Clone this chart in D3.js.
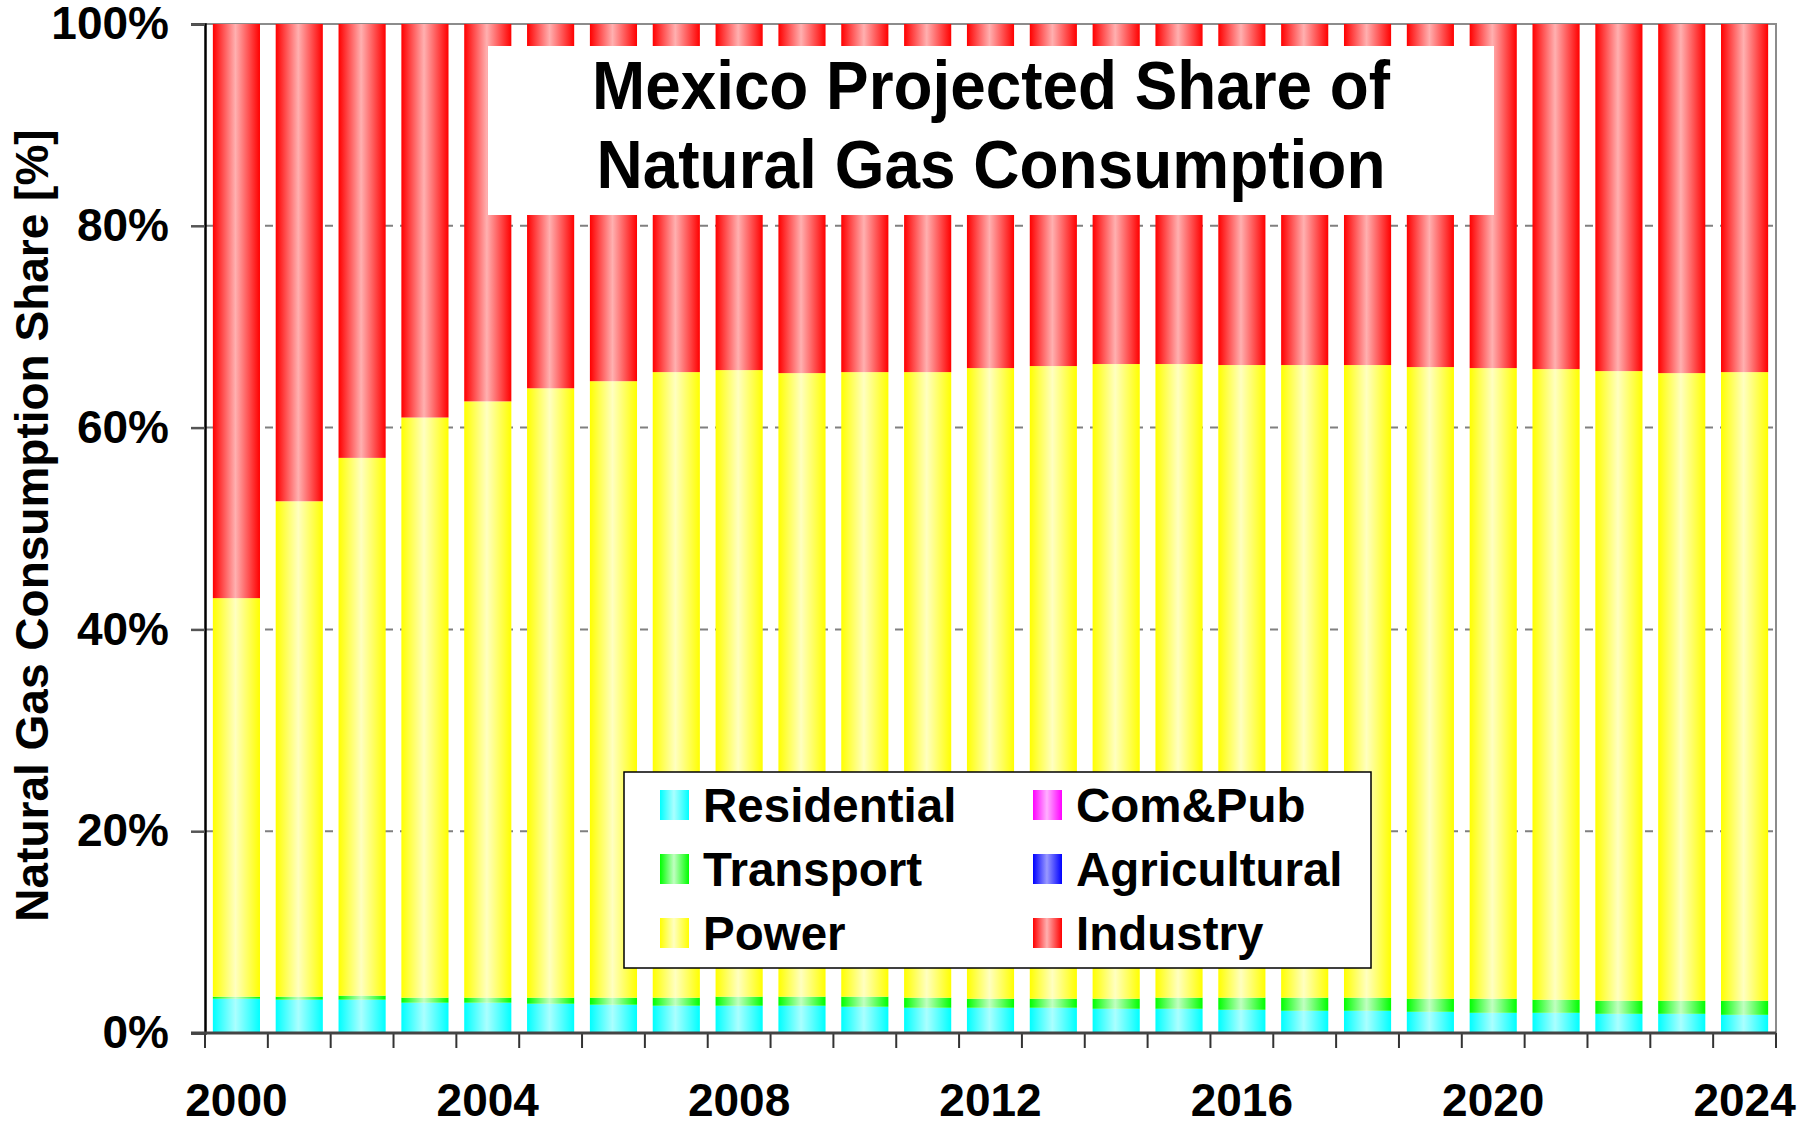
<!DOCTYPE html>
<html>
<head>
<meta charset="utf-8">
<script src="https://cdn.jsdelivr.net/npm/d3@7"></script>
<style>
  body { margin: 0; background: #fff; }
  svg { display: block; font-family: "Liberation Sans", Arial, sans-serif; font-weight: bold; }
</style>
</head>
<body>
<svg class="grafico" width="1806" height="1124"></svg>
<script>
// anos y series (porcentaje del consumo)
const years = d3.range(2000, 2025)
const residential = [3.4,3.3,3.3,3.0,3.0,2.9,2.8,2.7,2.7,2.7,2.6,2.5,2.5,2.5,2.4,2.4,2.3,2.2,2.2,2.1,2.0,2.0,1.9,1.9,1.8]
const comPub = [0,0,0,0,0,0,0,0,0,0,0,0,0,0,0,0,0,0,0,0,0,0,0,0,0]
const transport = [0.2,0.3,0.4,0.5,0.5,0.6,0.7,0.8,0.9,0.9,1.0,1.0,0.9,0.9,1.0,1.1,1.2,1.3,1.3,1.3,1.4,1.3,1.3,1.3,1.4]
const agricultural = [0,0,0,0,0,0,0,0,0,0,0,0,0,0,0,0,0,0,0,0,0,0,0,0,0]
const power = [39.5,49.1,53.3,57.5,59.1,60.4,61.1,62.0,62.1,61.8,61.9,62.0,62.5,62.7,62.9,62.8,62.7,62.7,62.7,62.6,62.5,62.5,62.4,62.2,62.3]
const industry = [56.9,47.3,43.0,39.0,37.4,36.1,35.4,34.5,34.3,34.6,34.5,34.5,34.1,33.9,33.7,33.7,33.8,33.8,33.8,34.0,34.1,34.2,34.4,34.6,34.5]

const yTicks = [0, 20, 40, 60, 80, 100]
const xLabels = [2000, 2004, 2008, 2012, 2016, 2020, 2024]

const series = [
  {key: 'Residential', values: residential, dark: '#00ffff', light: '#aaffff'},
  {key: 'Com&Pub', values: comPub, dark: '#ff00ff', light: '#ffb0ff'},
  {key: 'Transport', values: transport, dark: '#00ff00', light: '#c0ffc0'},
  {key: 'Agricultural', values: agricultural, dark: '#0000ff', light: '#9999ff'},
  {key: 'Power', values: power, dark: '#ffff00', light: '#ffffc0'},
  {key: 'Industry', values: industry, dark: '#ff0000', light: '#ffb0b0'}
]

const rows = years.map((yr, i) => {
  const r = {year: yr}
  series.forEach(s => r[s.key] = s.values[i])
  return r
})

const svg = d3.select('.grafico')
const mLeft = 205, mRight = 1776, mTop = 24, mBottom = 1033

const x = d3.scaleBand()
  .domain(years)
  .range([mLeft, mRight])
  .paddingInner(0.25)
  .paddingOuter(0.125)

const y = d3.scaleLinear()
  .domain([0, 100])
  .range([mBottom, mTop])

// degradados horizontales
const defs = svg.append('defs')
series.forEach((s, i) => {
  const g = defs.append('linearGradient')
    .attr('id', 'grad' + i)
    .attr('x1', 0).attr('x2', 1).attr('y1', 0).attr('y2', 0)
  g.append('stop').attr('offset', '0%').attr('stop-color', s.dark)
  g.append('stop').attr('offset', '48%').attr('stop-color', s.light)
  g.append('stop').attr('offset', '100%').attr('stop-color', s.dark)
})

// lineas de grilla
svg.append('g')
  .selectAll('line')
  .data([20, 40, 60, 80])
  .join('line')
  .attr('x1', mLeft).attr('x2', mRight)
  .attr('y1', d => y(d)).attr('y2', d => y(d))
  .attr('stroke', '#808080')
  .attr('stroke-width', 2)
  .attr('stroke-dasharray', '8,7')

// borde superior y derecho
svg.append('path')
  .attr('d', `M${mLeft},${y(100)}H${mRight}V${mBottom}`)
  .attr('fill', 'none')
  .attr('stroke', '#8c8c8c')
  .attr('stroke-width', 2)

const stacked = d3.stack().keys(series.map(s => s.key))(rows)

svg.append('g')
  .selectAll('g')
  .data(stacked)
  .join('g')
  .attr('fill', (d, i) => `url(#grad${i})`)
  .selectAll('rect')
  .data(d => d)
  .join('rect')
  .attr('x', d => x(d.data.year))
  .attr('width', x.bandwidth())
  .attr('y', d => y(d[1]))
  .attr('height', d => y(d[0]) - y(d[1]))

// eje y
const yAxis = svg.append('g')
  .attr('transform', `translate(${mLeft},0)`)
  .call(d3.axisLeft(y).tickValues(yTicks).tickFormat(d => d + '%').tickSize(14).tickPadding(22))
yAxis.select('.domain').attr('stroke', '#000').attr('stroke-width', 2.5)
yAxis.selectAll('.tick line').attr('stroke', '#555').attr('stroke-width', 2.5)
yAxis.selectAll('text')
  .attr('font-size', 46)
  .attr('font-family', '"Liberation Sans", Arial, sans-serif')
  .attr('font-weight', 'bold')
  .attr('fill', '#000')

// eje x: marcas entre barras
const edges = years.map(d => x(d) - x.step() * x.paddingInner() / 2)
edges[0] = mLeft
edges.push(mRight)
svg.append('g')
  .selectAll('line')
  .data(edges)
  .join('line')
  .attr('x1', d => d).attr('x2', d => d)
  .attr('y1', mBottom).attr('y2', mBottom + 15)
  .attr('stroke', '#333')
  .attr('stroke-width', 2)

svg.append('line')
  .attr('x1', mLeft - 14).attr('x2', mRight)
  .attr('y1', mBottom).attr('y2', mBottom)
  .attr('stroke', '#444')
  .attr('stroke-width', 3)

svg.append('g')
  .selectAll('text')
  .data(xLabels)
  .join('text')
  .attr('x', d => x(d) + x.bandwidth() / 2)
  .attr('y', 1116)
  .attr('text-anchor', 'middle')
  .attr('font-size', 46)
  .text(d => d)

// titulo del eje y
svg.append('text')
  .attr('transform', `translate(48,${(mTop + mBottom) / 2 - 3}) rotate(-90)`)
  .attr('text-anchor', 'middle')
  .attr('font-size', 46)
  .text('Natural Gas Consumption Share [%]')

// cuadro de titulo
svg.append('rect')
  .attr('x', 488).attr('y', 46)
  .attr('width', 1006).attr('height', 169)
  .attr('fill', '#fff')

const titleLines = ['Mexico Projected Share of', 'Natural Gas Consumption']
svg.append('g')
  .selectAll('text')
  .data(titleLines)
  .join('text')
  .attr('x', 991)
  .attr('y', (d, i) => 109 + i * 79)
  .attr('text-anchor', 'middle')
  .attr('font-size', 68)
  .attr('textLength', (d, i) => i === 0 ? 798 : 789)
  .attr('lengthAdjust', 'spacingAndGlyphs')
  .text(d => d)

// leyenda
const legend = svg.append('g')
legend.append('rect')
  .attr('x', 624).attr('y', 772)
  .attr('width', 747).attr('height', 196)
  .attr('fill', '#fff')
  .attr('stroke', '#000')
  .attr('stroke-width', 1.5)

const legendOrder = ['Residential', 'Transport', 'Power', 'Com&Pub', 'Agricultural', 'Industry']
const items = legend.selectAll('g')
  .data(legendOrder)
  .join('g')
  .attr('transform', (d, i) => `translate(${i < 3 ? 660 : 1033},${805 + (i % 3) * 64})`)

items.append('rect')
  .attr('x', 0).attr('y', -15)
  .attr('width', 29).attr('height', 30)
  .attr('fill', d => `url(#grad${series.findIndex(s => s.key === d)})`)

items.append('text')
  .attr('x', 43)
  .attr('y', 17)
  .attr('font-size', 47.5)
  .text(d => d)
</script>
</body>
</html>
